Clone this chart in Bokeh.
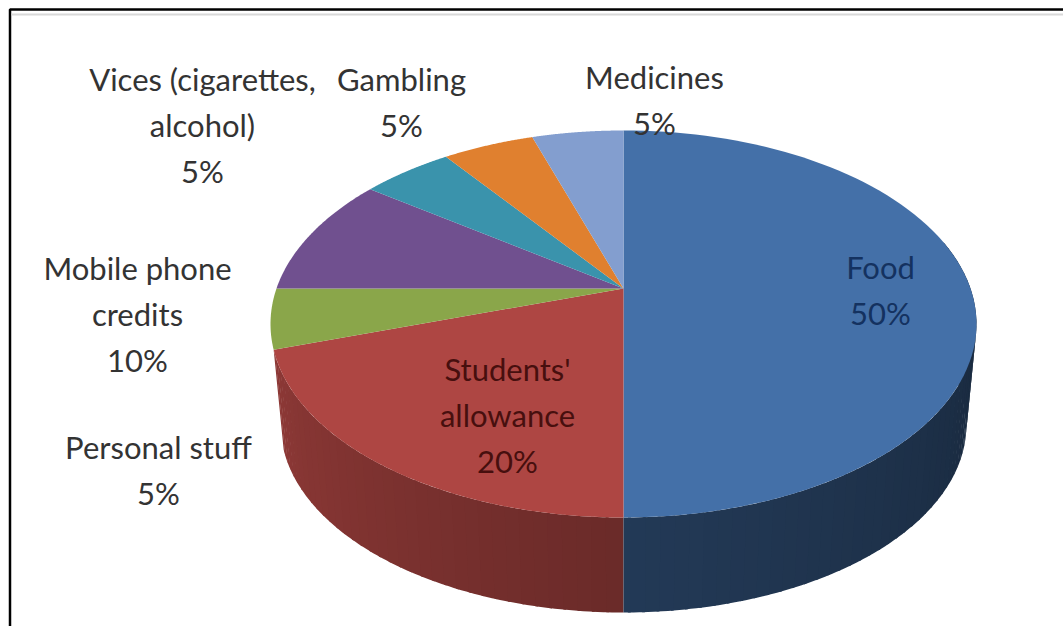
import numpy as np
from bokeh.core.properties import value
from bokeh.embed import file_html
from bokeh.models import Range1d
from bokeh.plotting import figure
from bokeh.resources import INLINE

# Monthly spending shares, clockwise from twelve o'clock
categories = ["Food", "Students' allowance", "Personal stuff", "Mobile phone credits",
              "Vices (cigarettes, alcohol)", "Gambling", "Medicines"]
shares = [50, 20, 5, 10, 5, 5, 5]
top_colors = ["#4470a8", "#ae4643", "#8aa64a", "#70508f", "#3a93ac", "#e0802f", "#839ecf"]

# Label layout: text lines (the last line is the share) and their centre
label_lines = [["Food"], ["Students'", "allowance"], ["Personal stuff"], ["Mobile phone", "credits"],
               ["Vices (cigarettes,", "alcohol)"], ["Gambling"], ["Medicines"]]
label_x = [880, 507, 158, 137, 202, 401, 654]
label_y = [266, 368, 446, 267, 78, 78, 76]
label_colors = ["#143260", "#470f0e", "#333333", "#333333", "#333333", "#333333", "#333333"]
LINE_GAP = 46

W, H = 1063, 626
CX = 623.0
TOP = dict(y0=288.0, a=347.0, far=158.0, near=229.0)
BOTTOM = dict(y0=390.0, a=337.0, far=153.0, near=222.0)
WALL_START, WALL_END = 75.0, 252.0


def rim(theta_deg, disc):
    """Project a point of the pie's circular rim through a simple perspective."""
    t = np.radians(theta_deg)
    k = (disc["near"] - disc["far"]) / (disc["near"] + disc["far"])
    b = disc["far"] * (1 + k)
    w = 1 + k * np.cos(t)
    return CX + disc["a"] * np.sin(t) / w, disc["y0"] - b * np.cos(t) / w


def shade(hex_color, f):
    rgb = [int(hex_color[i:i + 2], 16) for i in (1, 3, 5)]
    return "#%02x%02x%02x" % tuple(int(c * f) for c in rgb)


p = figure(width=W, height=H, output_backend="svg", toolbar_location=None,
           x_range=Range1d(0, W), y_range=Range1d(H, 0), min_border=0,
           background_fill_color="white", border_fill_color="white", outline_line_color=None)
p.axis.visible = False
p.grid.visible = False

# Frame: left and top rules only, the page cuts off the rest
p.line([9.5, 9.5, W], [H, 9, 9], line_color="#000000", line_width=2.5)
p.line([11, W], [14, 14], line_color="#d8d8d8", line_width=2)

edges = np.cumsum([0] + shares) * 3.6

# Side wall: narrow strips painted from the back towards the front
strips = []
for i, col in enumerate(top_colors):
    lo, hi = max(edges[i], WALL_START), min(edges[i + 1], WALL_END)
    if hi <= lo:
        continue
    for a0 in np.arange(lo, hi, 2.0):
        a1 = min(a0 + 2.0, hi)
        if a0 < 180:
            f = 0.36 + 0.16 * (a0 - 90) / 90
        else:
            f = 0.62 + 0.20 * (a0 - 180) / 72
        # a small overlap hides seams, but stays inside the slice
        strips.append((abs((a0 + a1) / 2 - 180), a0, min(a1 + 0.4, hi), shade(col, max(f, 0.36))))
strips.sort(key=lambda s: -s[0])
for _, a0, a1, color in strips:
    t = np.linspace(a0, a1, 4)
    xt, yt = rim(t, TOP)
    xb, yb = rim(t, BOTTOM)
    p.patch(np.r_[xt, xb[::-1]], np.r_[yt, yb[::-1]], fill_color=color, line_color=None)

# Top face
for i, col in enumerate(top_colors):
    t = np.linspace(edges[i], edges[i + 1], 90)
    xr, yr = rim(t, TOP)
    p.patch(np.r_[CX, xr], np.r_[TOP["y0"], yr], fill_color=col, line_color=None)

# Data labels
for lines, share, x, y, color in zip(label_lines, shares, label_x, label_y, label_colors):
    rows = lines + [f"{share}%"]
    p.text([x] * len(rows), [y + LINE_GAP * j for j in range(len(rows))], text=rows,
           text_font=value("Lato"), text_font_size="31px", text_color=color,
           text_align="center", text_baseline="middle")

open("out.html", "w").write(file_html(p, INLINE))
